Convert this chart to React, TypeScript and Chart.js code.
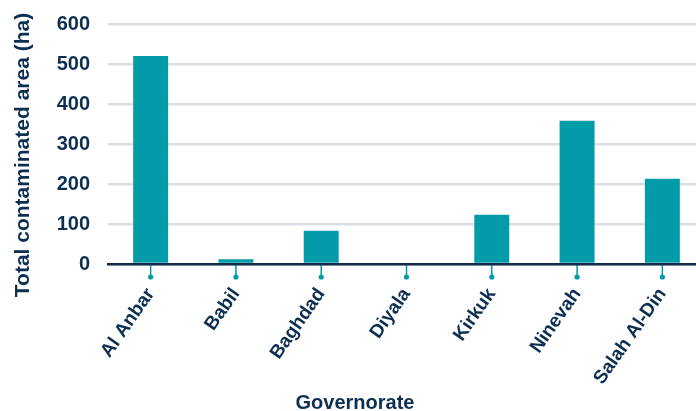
import React, { useEffect, useRef } from "react";
import { Chart, registerables } from "chart.js";

Chart.register(...registerables);

const categories = ["Al Anbar", "Babil", "Baghdad", "Diyala", "Kirkuk", "Ninevah", "Salah Al-Din"];
const areaValues = [520, 12, 83, 3, 123, 358, 213];
const yTicks = [0, 100, 200, 300, 400, 500, 600];
const xTitle = "Governorate";
const yTitle = "Total contaminated area (ha)";

const TEAL = "#019ca7";
const NAVY = "#0c2f52";
const FONT = "'Liberation Sans', Arial, sans-serif";

const markerPlugin = {
  id: "tickMarkers",
  afterDatasetsDraw(chart: any) {
    const ctx = chart.ctx;
    const x = chart.scales.x;
    const y = chart.scales.y;
    const y0 = y.getPixelForValue(0);
    ctx.save();
    ctx.strokeStyle = TEAL;
    ctx.fillStyle = TEAL;
    ctx.lineWidth = 1.5;
    categories.forEach((_, i) => {
      const px = x.getPixelForValue(i);
      ctx.beginPath();
      ctx.moveTo(px, y0 + 1);
      ctx.lineTo(px, y0 + 12);
      ctx.stroke();
      ctx.beginPath();
      ctx.arc(px, y0 + 13, 2.6, 0, Math.PI * 2);
      ctx.fill();
    });
    ctx.restore();
  },
  afterDraw(chart: any) {
    const ctx = chart.ctx;
    ctx.save();
    ctx.fillStyle = NAVY;
    ctx.textAlign = "center";
    ctx.textBaseline = "alphabetic";
    ctx.font = `bold 20px ${FONT}`;
    ctx.fillText(xTitle, 355, 409);
    ctx.translate(29, 155);
    ctx.rotate(-Math.PI / 2);
    ctx.font = `bold 21px ${FONT}`;
    ctx.fillText(yTitle, 0, 0);
    ctx.restore();
  },
};

export default function App() {
  const ref = useRef<HTMLCanvasElement>(null);
  useEffect(() => {
    if (!ref.current) return;
    const chart = new Chart(ref.current, {
      type: "bar",
      data: {
        labels: categories,
        datasets: [
          {
            data: areaValues,
            backgroundColor: TEAL,
            borderWidth: 0,
            barPercentage: 0.41,
            categoryPercentage: 1,
          },
        ],
      },
      options: {
        animation: false,
        responsive: false,
        devicePixelRatio: 1,
        layout: { padding: { left: 0, right: 10, top: 0, bottom: 0 } },
        plugins: { legend: { display: false }, tooltip: { enabled: false } },
        scales: {
          x: {
            grid: { display: false, drawTicks: false },
            border: { display: true, color: "#13294b", width: 2.5, z: 1 },
            ticks: {
              color: NAVY,
              font: { family: FONT, size: 19, weight: "bold" },
              maxRotation: 55,
              minRotation: 55,
              padding: 20,
              autoSkip: false,
            },
            afterFit: (s: any) => {
              s.height = 147;
              s.paddingLeft = 0;
              s.paddingRight = 0;
            },
          },
          y: {
            min: 0,
            max: 600,
            afterBuildTicks: (s: any) => {
              s.ticks = yTicks.map((v) => ({ value: v }));
            },
            grid: { color: "#dbdee4", lineWidth: 2.5, drawTicks: false },
            border: { display: false },
            ticks: {
              color: NAVY,
              font: { family: FONT, size: 20, weight: "bold" },
              padding: 18,
            },
            afterFit: (s: any) => {
              s.width = 108;
              s.paddingTop = 24;
              s.paddingBottom = 0;
            },
          },
        },
      },
      plugins: [markerPlugin],
    });
    return () => chart.destroy();
  }, []);
  return (
    <div style={{ position: "fixed", left: 0, top: 0, width: 696, height: 411, overflow: "hidden", background: "#fff" }}>
      <canvas ref={ref} width={715} height={411} style={{ width: 715, height: 411, display: "block" }} />
    </div>
  );
}
